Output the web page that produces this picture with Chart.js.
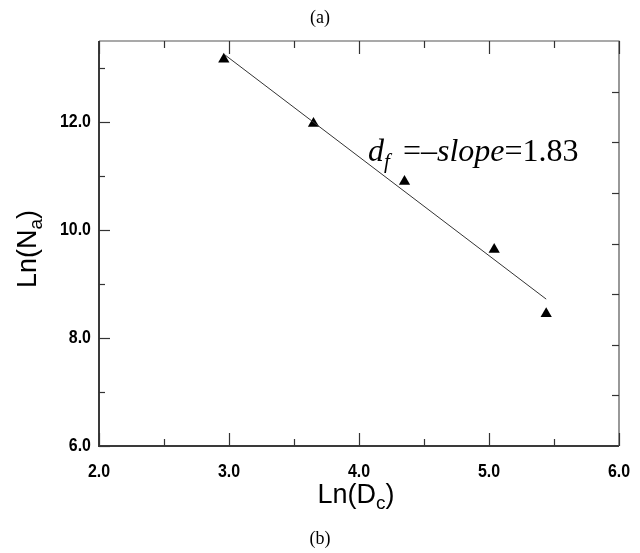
<!DOCTYPE html>
<html>
<head>
<meta charset="utf-8">
<script src="https://cdn.jsdelivr.net/npm/chart.js@4.4.0/dist/chart.umd.min.js"></script>
<style>
  html, body { margin: 0; padding: 0; background: #fff; }
</style>
</head>
<body>
<canvas id="chart" width="640" height="553"></canvas>
<script>
// measured points, Ln(Dc) vs Ln(Na)
const lnDc = [2.96, 3.65, 4.35, 5.04, 5.44];
const lnNa = [13.16, 11.97, 10.90, 9.64, 8.45];

// fitted line end points
const fitX = [2.97, 5.44];
const fitY = [13.24, 8.72];

const xTicks = [2, 3, 4, 5, 6];
const yTicks = [6, 8, 10, 12];

const axisFont = "'Liberation Sans', Arial, sans-serif";
const serifFont = "'Liberation Serif', 'Times New Roman', serif";

// condensed bold tick label, drawn with a horizontal squeeze
function narrowText(ctx, text, x, y, align) {
  ctx.save();
  ctx.font = 'bold 19px ' + axisFont;
  ctx.textAlign = align;
  ctx.textBaseline = 'middle';
  ctx.translate(x, y);
  ctx.scale(0.84, 1);
  ctx.fillText(text, 0, 0);
  ctx.restore();
}

// frame, inward ticks, labels, titles and the annotation
const decorations = {
  id: 'decorations',
  afterDraw(chart) {
    const ctx = chart.ctx;
    const a = chart.chartArea;
    const xs = chart.scales.x, ys = chart.scales.y;
    ctx.save();

    // frame
    ctx.strokeStyle = '#3a3a3a';
    ctx.lineWidth = 2;
    ctx.beginPath();
    ctx.moveTo(a.left, a.top); ctx.lineTo(a.left, a.bottom); ctx.lineTo(a.right, a.bottom);
    ctx.stroke();
    ctx.strokeStyle = '#555';
    ctx.lineWidth = 1.2;
    ctx.beginPath();
    ctx.moveTo(a.left, a.top); ctx.lineTo(a.right, a.top); ctx.lineTo(a.right, a.bottom);
    ctx.stroke();

    // x ticks on bottom and top
    ctx.lineWidth = 1.2;
    ctx.strokeStyle = '#333';
    for (let v = xs.min; v <= xs.max + 1e-9; v += 0.5) {
      const px = Math.round(xs.getPixelForValue(v)) + 0.5;
      const major = Math.abs(v - Math.round(v)) < 1e-9;
      const len = major ? 13 : 7;
      ctx.beginPath();
      ctx.moveTo(px, a.bottom); ctx.lineTo(px, a.bottom - len);
      ctx.moveTo(px, a.top); ctx.lineTo(px, a.top + len);
      ctx.stroke();
    }
    // y ticks on the left
    for (let v = ys.min; v <= ys.max + 1e-9; v += 1) {
      const py = Math.round(ys.getPixelForValue(v)) + 0.5;
      const major = yTicks.includes(v);
      ctx.beginPath();
      ctx.moveTo(a.left, py); ctx.lineTo(a.left + (major ? 11 : 6), py);
      ctx.stroke();
    }
    // right side: eight equal divisions
    for (let i = 1; i < 8; i++) {
      const py = Math.round(ys.getPixelForValue(ys.min + i * (ys.max - ys.min) / 8)) + 0.5;
      ctx.beginPath();
      ctx.moveTo(a.right, py); ctx.lineTo(a.right - 7, py);
      ctx.stroke();
    }

    ctx.fillStyle = '#000';

    // tick labels
    xs.ticks.forEach(t => narrowText(ctx, t.value.toFixed(1), xs.getPixelForValue(t.value), a.bottom + 26, 'center'));
    ys.ticks.forEach(t => narrowText(ctx, t.value.toFixed(1), a.left - 8, ys.getPixelForValue(t.value), 'right'));

    ctx.textBaseline = 'alphabetic';

    // panel labels
    ctx.font = '18px ' + serifFont;
    ctx.textAlign = 'center';
    ctx.fillText('(a)', 320, 23);
    ctx.fillText('(b)', 320, 544);

    // x axis title Ln(Dc)
    ctx.textAlign = 'left';
    const big = '27px ' + axisFont, small = '19px ' + axisFont;
    function subTitle(main, sub, tail) {
      ctx.font = big; const w1 = ctx.measureText(main).width;
      ctx.font = small; const w2 = ctx.measureText(sub).width;
      ctx.font = big; const w3 = ctx.measureText(tail).width;
      return { w1, w2, w3, total: w1 + w2 + w3 };
    }
    let m = subTitle('Ln(D', 'c', ')');
    let x0 = 356 - m.total / 2, base = 503;
    ctx.font = big; ctx.fillText('Ln(D', x0, base);
    ctx.font = small; ctx.fillText('c', x0 + m.w1, base + 6);
    ctx.font = big; ctx.fillText(')', x0 + m.w1 + m.w2, base);

    // y axis title Ln(Na), rotated
    m = subTitle('Ln(N', 'a', ')');
    ctx.save();
    ctx.translate(36, 249);
    ctx.rotate(-Math.PI / 2);
    x0 = -m.total / 2;
    ctx.font = big; ctx.fillText('Ln(N', x0, 0);
    ctx.font = small; ctx.fillText('a', x0 + m.w1, 6);
    ctx.font = big; ctx.fillText(')', x0 + m.w1 + m.w2, 0);
    ctx.restore();

    // annotation d_f = -slope = 1.83
    const ax = xs.getPixelForValue(4.07), ay = ys.getPixelForValue(11.28);
    const parts = [
      ['d', 'italic 32px', 0, 0],
      ['f', 'italic 21px', 7, 5],
      [' =\u2013', '32px', 0, 0],
      ['slope', 'italic 32px', 0, 0],
      ['=1.83', '32px', 0, 0]
    ];
    let cx = ax;
    parts.forEach(p => {
      ctx.font = p[1] + ' ' + serifFont;
      ctx.fillText(p[0], cx, ay + p[2]);
      cx += ctx.measureText(p[0]).width + p[3];
    });

    ctx.restore();
  }
};

new Chart(document.getElementById('chart'), {
  type: 'scatter',
  data: {
    datasets: [
      {
        label: 'fit',
        type: 'line',
        data: fitX.map((x, i) => ({ x: x, y: fitY[i] })),
        borderColor: '#333',
        borderWidth: 1,
        pointRadius: 0,
        fill: false
      },
      {
        label: 'data',
        data: lnDc.map((x, i) => ({ x: x, y: lnNa[i] })),
        pointStyle: 'triangle',
        pointRadius: 6.5,
        backgroundColor: '#000',
        borderColor: '#000',
        borderWidth: 0
      }
    ]
  },
  options: {
    responsive: false,
    animation: false,
    devicePixelRatio: 1,
    layout: { padding: { top: 41, right: 21, bottom: 0, left: 0 } },
    plugins: { legend: { display: false }, tooltip: { enabled: false } },
    scales: {
      x: {
        type: 'linear',
        min: 2, max: 6,
        afterBuildTicks: s => { s.ticks = xTicks.map(v => ({ value: v })); },
        afterFit: s => { s.height = 107; },
        grid: { display: false, drawTicks: false },
        border: { display: false },
        ticks: { display: false }
      },
      y: {
        type: 'linear',
        min: 6, max: 13.5,
        afterBuildTicks: s => { s.ticks = yTicks.map(v => ({ value: v })); },
        afterFit: s => { s.width = 99; },
        grid: { display: false, drawTicks: false },
        border: { display: false },
        ticks: { display: false }
      }
    }
  },
  plugins: [decorations]
});
</script>
</body>
</html>
